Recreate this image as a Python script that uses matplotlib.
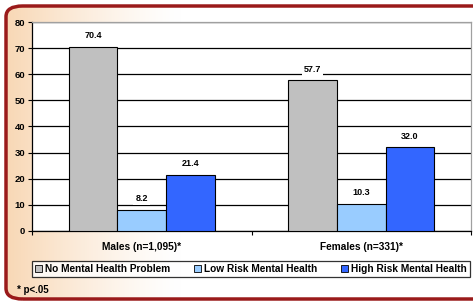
import numpy as np
import matplotlib.pyplot as plt
from matplotlib.patches import FancyBboxPatch, Patch

# data
groups = ['Males (n=1,095)*', 'Females (n=331)*']
series = ['No Mental Health Problem', 'Low Risk Mental Health', 'High Risk Mental Health']
no_problem = [70.4, 57.7]
low_risk = [8.2, 10.3]
high_risk = [21.4, 32.0]
colors = ['#c0c0c0', '#99ccff', '#3366ff']

plt.rcParams['font.family'] = ['Liberation Sans', 'DejaVu Sans']
plt.rcParams['font.weight'] = 'bold'

W, H = 473, 304
fig = plt.figure(figsize=(W / 100, H / 100), dpi=100)
fig.patch.set_facecolor('white')

# slide background: warm gradient on the left, inside the red frame
bg = fig.add_axes([0, 0, 1, 1], zorder=-10)
bg.set_axis_off()
bg.set_xlim(0, 1)
bg.set_ylim(0, 1)
xx = np.linspace(0, 1, 300)
yy = np.linspace(0, 1, 200)
X, Y = np.meshgrid(xx, yy)
t = np.clip(1 - X / 0.38, 0, 1) ** 1.3
warm = np.array([248, 214, 178]) / 255
img = np.ones((200, 300, 3)) * (1 - t[..., None]) + warm * t[..., None]
im = bg.imshow(img, extent=[0, 1, 0, 1], aspect='auto', origin='lower')

frame = FancyBboxPatch((6 / W, 5 / H), 500 / W, 293 / H,
                       boxstyle='round,pad=0,rounding_size=0.035',
                       transform=bg.transAxes, fill=False,
                       edgecolor='#9a1a1a', linewidth=2.5, zorder=2)
bg.add_patch(frame)
im.set_clip_path(frame)

ax = fig.add_axes([32 / W, (H - 231) / H, (471 - 32) / W, (231 - 22) / H])
ax.set_facecolor('white')

x = np.arange(len(groups))
w = 0.222
vals = [no_problem, low_risk, high_risk]
for i, (v, c) in enumerate(zip(vals, colors)):
    bars = ax.bar(x + (i - 1) * w, v, w, color=c, edgecolor='black',
                  linewidth=0.8, zorder=3)
    for b, val in zip(bars, v):
        ax.annotate(f'{val:.1f}', (b.get_x() + b.get_width() / 2, val),
                    xytext=(0, 8), textcoords='offset points',
                    ha='center', va='center', fontsize=6.5, fontweight='bold',
                    zorder=5,
                    bbox=dict(boxstyle='square,pad=0.25', fc='white', ec='none'))

ax.set_xlim(-0.5, 1.5)
ax.set_ylim(0, 80)
ax.set_yticks(range(0, 81, 10))
ax.yaxis.grid(True, color='black', linewidth=0.9, zorder=0)
ax.set_axisbelow(True)

ax.set_xticks(x)
ax.set_xticklabels(groups, fontsize=7.3, fontweight='bold')
ax.set_xticks([-0.5, 0.5, 1.5], minor=True)
ax.tick_params(axis='x', which='major', length=0, pad=8)
ax.tick_params(axis='x', which='minor', length=3, direction='out', width=0.8)
ax.tick_params(axis='y', length=3, width=0.8, labelsize=6.8, pad=2)
for lab in ax.get_yticklabels():
    lab.set_fontweight('bold')

ax.spines['left'].set_color('black')
ax.spines['bottom'].set_color('black')
ax.spines['top'].set_color('#a0a0a0')
ax.spines['right'].set_color('#a0a0a0')
for s in ax.spines.values():
    s.set_linewidth(0.9)

handles = [Patch(facecolor=c, edgecolor='black', linewidth=0.6) for c in colors]
leg = fig.legend(handles, series, loc='lower left',
                 bbox_to_anchor=(32 / W, (H - 277) / H, (470 - 32) / W, 17 / H),
                 mode='expand', ncol=3, frameon=True,
                 fancybox=False, handlelength=0.7, handleheight=0.7,
                 handletextpad=0.3, borderpad=0.3, borderaxespad=0,
                 columnspacing=0.8, prop={'weight': 'bold', 'size': 7.3})
leg.get_frame().set_edgecolor('black')
leg.get_frame().set_linewidth(0.9)

fig.text(17 / W, (H - 290) / H, '* p<.05', fontsize=7, fontweight='bold',
         va='center', ha='left')

fig.savefig('out.png', dpi=100)
